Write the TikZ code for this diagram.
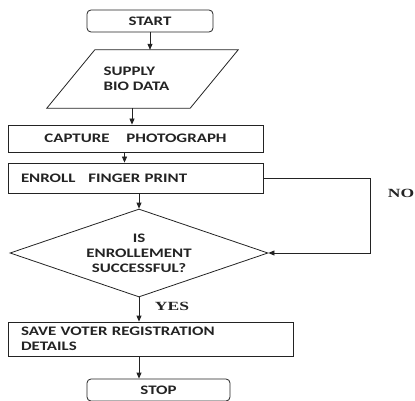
\documentclass[tikz,border=0pt]{standalone}
\usepackage{fontspec}
\setmainfont{Carlito}[FakeStretch=1.3]
\newfontfamily\tagfont{Liberation Serif}[FakeStretch=1.4]
\usetikzlibrary{
  arrows.meta,
  shapes.geometric,
  calc
}
\definecolor{inkgray}{RGB}{35,35,35}
\newcommand{\boxfont}{\fontsize{13}{15}\selectfont\bfseries}

\tikzset{
  flowline/.style={draw=inkgray, line width=0.8pt},
  flowarrow/.style={flowline, -{Triangle[length=6pt,width=5pt]}},
  termbox/.style={flowline, rounded corners=4pt, minimum width=126, minimum height=22, font=\boxfont, text=inkgray},
  stepbox/.style={flowline, minimum width=255, minimum height=27, font=\boxfont, text=inkgray},
  leftbox/.style={stepbox, text width=229, inner xsep=13, align=left},
  askbox/.style={flowline, diamond, aspect=2.9, inner sep=1pt, minimum width=258, minimum height=88, font=\boxfont, text=inkgray, align=center},
  tagtext/.style={font=\tagfont\fontsize{12.5}{14}\selectfont\bfseries, text=inkgray}
}

\begin{document}
\begin{tikzpicture}[x=1pt, y=-1pt]
  \useasboundingbox (0,0) rectangle (415,401);
  % boxes
  \node[termbox] (start) at (150,21) {START};
  \node[font=\boxfont, text=inkgray, minimum width=143, minimum height=58, align=left, inner sep=0pt] (bio) at (136.5,79) {SUPPLY\\BIO DATA};
  \draw[flowline] ([xshift=30]bio.north west) -- ([xshift=30]bio.north east)
    -- ([xshift=-18]bio.south east) -- ([xshift=-18]bio.south west) -- cycle;
  \node[stepbox] (capture) at (135.5,138.5) {CAPTURE\quad\ PHOTOGRAPH};
  \node[leftbox, minimum height=30] (enroll) at (135.5,178) {ENROLL\quad FINGER PRINT};
  \node[askbox] (ask) at (139,253) {IS\\ENROLLEMENT\\SUCCESSFUL?};
  \node[leftbox, text width=259, minimum height=34] (save) at (150.5,339) {SAVE VOTER REGISTRATION\\DETAILS};
  \node[termbox, minimum width=143] (stop) at (158.5,390) {STOP};
  % connectors
  \draw[flowarrow] (start.south) -- (start.south |- bio.north);
  \draw[flowarrow] ([xshift=-4.5]bio.south) -- ([xshift=-4.5]bio.south |- capture.north);
  \draw[flowarrow] ([xshift=-11]capture.south) -- ([xshift=-11]capture.south |- enroll.north);
  \draw[flowarrow] (ask.north |- enroll.south) -- (ask.north);
  \coordinate (back) at (370,178);
  \draw[flowarrow] (enroll.east) -- (back) |- (ask.east);
  \draw[flowarrow] (ask.south) -- (ask.south |- save.north);
  \draw[flowarrow] (ask.south |- save.south) -- (ask.south |- stop.north);
  % labels
  \node[tagtext] (no) at (401,193) {NO};
  \node[tagtext] (yes) at (172,306) {YES};
\end{tikzpicture}
\end{document}
